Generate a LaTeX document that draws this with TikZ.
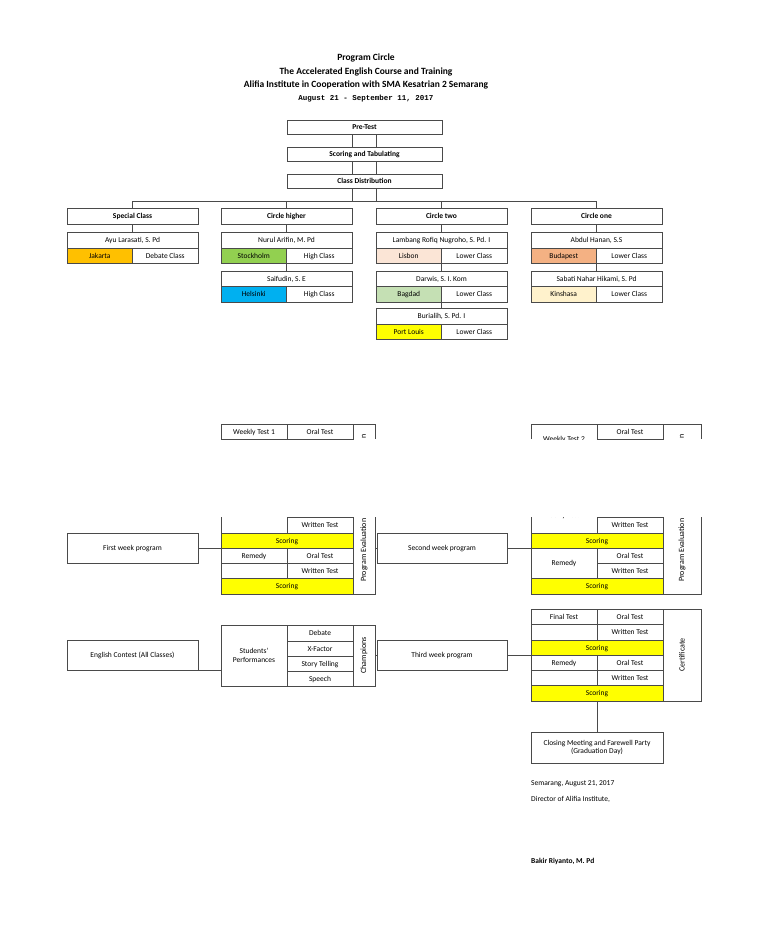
\documentclass[tikz,border=0pt]{standalone}
\usepackage{fontspec}
\setmainfont{Carlito}
\newfontfamily\monof{Liberation Mono}
\definecolor{lc}{HTML}{4A4A4A}
\definecolor{yel}{HTML}{FFFF00}
\definecolor{cJak}{HTML}{FFC000}
\definecolor{cSto}{HTML}{92D050}
\definecolor{cHel}{HTML}{00B0F0}
\definecolor{cLis}{HTML}{FBE5D6}
\definecolor{cBag}{HTML}{C5E0B4}
\definecolor{cBud}{HTML}{F4B183}
\definecolor{cKin}{HTML}{FFF2CC}
\tikzset{
  bx/.style={draw=lc, line width=0.8pt, inner sep=0pt, outer sep=0pt, align=center,
    font=\fontsize{7.5}{8.5}\selectfont, text=black, text height=5.6pt, text depth=0.6pt},
  ml/.style={text height=, text depth=},
  hd/.style={font=\bfseries\fontsize{7.5}{8.5}\selectfont},
  ln/.style={draw=lc, line width=0.8pt},
  rot/.style={rotate=90, inner sep=0pt, font=\fontsize{8}{9}\selectfont},
  ttl/.style={inner sep=0pt, font=\bfseries\fontsize{9.5}{11}\selectfont},
  sig/.style={inner sep=0pt, anchor=west, font=\fontsize{7.5}{8.5}\selectfont},
}
\newcommand\mycell[7][]{\node[bx,minimum width={(#5-#3)*1pt},minimum height={(#6-#4)*1pt},#1] (#2) at ({(#3+#5)/2},{(#4+#6)/2}) {#7};}
\begin{document}
\begin{tikzpicture}[x=1pt,y=-1pt]
\fill[white] (0,0) rectangle (768,932);
\useasboundingbox (0,0) rectangle (768,932);

% titles
\node[ttl] (t1) at (366,58) {Program Circle};
\node[ttl] (t2) at (366,72) {The Accelerated English Course and Training};
\node[ttl] (t3) at (366,85) {Alifia Institute in Cooperation with SMA Kesatrian 2 Semarang};
\node[inner sep=0pt, font=\monof\bfseries\fontsize{7.5}{9}\selectfont] (t4) at (366,99) {August 21 - September 11, 2017};

% header chain
\mycell[hd]{pre}{287}{120}{442}{134}{Pre-Test}
\mycell[hd]{sct}{287}{147}{442}{161}{Scoring and Tabulating}
\mycell[hd]{cd}{287}{174}{442}{188}{Class Distribution}
\mycell[hd]{spc}{67}{208}{198}{224}{Special Class}
\mycell[hd]{chi}{221}{208}{352}{224}{Circle higher}
\mycell[hd]{ctw}{376}{208}{507}{224}{Circle two}
\mycell[hd]{con}{531}{208}{662}{224}{Circle one}
\coordinate (bus) at (0,201);
\draw[ln] (pre.south -| chi.east) -- (sct.north -| chi.east);
\draw[ln] (pre.south -| ctw.west) -- (sct.north -| ctw.west);
\draw[ln] (sct.south -| chi.east) -- (cd.north -| chi.east);
\draw[ln] (sct.south -| ctw.west) -- (cd.north -| ctw.west);
\draw[ln] (cd.south -| chi.east) -- (bus -| chi.east);
\draw[ln] (cd.south -| ctw.west) -- (bus -| ctw.west);
\draw[ln] (bus -| spc.north) -- (bus -| con.north);
\draw[ln] (bus -| spc.north) -- (spc.north);
\draw[ln] (bus -| chi.north) -- (chi.north);
\draw[ln] (bus -| ctw.north) -- (ctw.north);
\draw[ln] (bus -| con.north) -- (con.north);

% special class
\mycell{ayu}{67}{232}{198}{248}{Ayu Larasati, S. Pd}
\mycell[fill=cJak]{jak}{67}{248}{132.5}{263}{Jakarta}
\mycell{debc}{132.5}{248}{198}{263}{Debate Class}
\draw[ln] (spc.south) -- (ayu.north);
% circle higher
\mycell{nur}{221}{232}{352}{248}{Nurul Arifin, M. Pd}
\mycell[fill=cSto]{sto}{221}{248}{286.5}{263}{Stockholm}
\mycell{hc1}{286.5}{248}{352}{263}{High Class}
\mycell{sai}{221}{271}{352}{286}{Saifudin, S. E}
\mycell[fill=cHel]{hel}{221}{286}{286.5}{302}{Helsinki}
\mycell{hc2}{286.5}{286}{352}{302}{High Class}
\draw[ln] (chi.south) -- (nur.north);
\draw[ln] (sto.south east) -- (sai.north);
% circle two
\mycell{lam}{376}{232}{507}{248}{Lambang Rofiq Nugroho, S. Pd. I}
\mycell[fill=cLis]{lis}{376}{248}{441.5}{263}{Lisbon}
\mycell{lo1}{441.5}{248}{507}{263}{Lower Class}
\mycell{dar}{376}{271}{507}{286}{Darwis, S. I. Kom}
\mycell[fill=cBag]{bag}{376}{286}{441.5}{302}{Bagdad}
\mycell{lo2}{441.5}{286}{507}{302}{Lower Class}
\mycell{bur}{376}{308}{507}{324}{Burialih, S. Pd. I}
\mycell[fill=yel]{pl}{376}{324}{441.5}{339}{Port Louis}
\mycell{lo3}{441.5}{324}{507}{339}{Lower Class}
\draw[ln] (ctw.south) -- (lam.north);
\draw[ln] (lis.south east) -- (dar.north);
\draw[ln] (bag.south east) -- (bur.north);
% circle one
\mycell{abd}{531}{232}{662}{248}{Abdul Hanan, S.S}
\mycell[fill=cBud]{bud}{531}{248}{596.5}{263}{Budapest}
\mycell{lo4}{596.5}{248}{662}{263}{Lower Class}
\mycell{sab}{531}{271}{662}{286}{Sabati Nahar Hikami, S. Pd}
\mycell[fill=cKin]{kin}{531}{286}{596.5}{302}{Kinshasa}
\mycell{lo5}{596.5}{286}{662}{302}{Lower Class}
\draw[ln] (con.south) -- (abd.north);
\draw[ln] (bud.south east) -- (sab.north);

% weekly test 1 (top strip)
\mycell{wt1}{221}{424}{287}{439}{Weekly Test 1}
\mycell{or1}{287}{424}{353}{439}{Oral Test}
\draw[ln] (353,439) -- (353,424) -- (375,424) -- (375,439);
\node[rot] (pe1n) at (364,436) {n};
% weekly test 1 (bottom strip)
\draw[ln] (221,517) -- (221,594);
\mycell{wr1a}{287}{517}{353}{533}{Written Test}
\mycell[fill=yel]{sc1a}{221}{533}{353}{548}{Scoring}
\mycell{rem1}{221}{548}{287}{563}{Remedy}
\mycell{or1b}{287}{548}{353}{563}{Oral Test}
\mycell{bl1}{221}{563}{287}{578}{}
\mycell{wr1b}{287}{563}{353}{578}{Written Test}
\mycell[fill=yel]{sc1b}{221}{578}{353}{594}{Scoring}
\draw[ln] (353,517) -- (353,594) -- (375,594) -- (375,517);
\begin{scope}
\clip (353,517) rectangle (375,594);
\node[rot,anchor=west] (pe1) at (364,582) {Program Evaluation};
\end{scope}
\coordinate (pe1e) at (375,548);

\mycell{wk1}{67}{533}{198}{563}{First week program}
\draw[ln] (wk1.east) -- (wk1.east -| sc1a.west);
\mycell{wk2}{377}{533}{507}{563}{Second week program}
\draw[ln] (pe1e) -- (wk2.west);

% weekly test 2 (top strip)
\draw[ln] (531,439) -- (531,424) -- (597,424);
\begin{scope}
\clip (531,424) rectangle (597,439);
\node[inner sep=0pt, font=\fontsize{7.5}{8.5}\selectfont] (wt2a) at (564,439) {Weekly Test 2};
\end{scope}
\mycell{or2}{597}{424}{663}{439}{Oral Test}
\draw[ln] (663,439) -- (663,424) -- (701,424) -- (701,439);
\node[rot] (pe2n) at (682,436) {n};
% weekly test 2 (bottom strip)
\draw[ln] (531,517) -- (531,594);
\begin{scope}
\clip (531,517) rectangle (597,533);
\node[inner sep=0pt, font=\fontsize{7.5}{8.5}\selectfont] (wt2b) at (564,515) {Weekly Test 2};
\end{scope}
\mycell{wr2a}{597}{517}{663}{533}{Written Test}
\mycell[fill=yel]{sc2a}{531}{533}{663}{548}{Scoring}
\mycell{rem2}{531}{548}{597}{578}{Remedy}
\mycell{or2b}{597}{548}{663}{563}{Oral Test}
\mycell{wr2b}{597}{563}{663}{578}{Written Test}
\mycell[fill=yel]{sc2b}{531}{578}{663}{594}{Scoring}
\draw[ln] (663,517) -- (663,594) -- (701,594) -- (701,517);
\begin{scope}
\clip (663,517) rectangle (701,594);
\node[rot,anchor=west] (pe2) at (682,582) {Program Evaluation};
\end{scope}
\draw[ln] (wk2.east) -- (wk2.east -| sc2a.west);

% third week
\mycell{eng}{67}{640}{198}{670}{English Contest (All Classes)}
\mycell[ml]{perf}{221}{625}{287}{686}{Students'\\Performances}
\mycell{deb}{287}{625}{353}{641}{Debate}
\mycell{xf}{287}{641}{353}{656}{X-Factor}
\mycell{stt}{287}{656}{353}{671}{Story Telling}
\mycell{spe}{287}{671}{353}{686}{Speech}
\mycell{cha}{353}{625}{375}{686}{}
\node[rot] (chat) at (cha.center) {Champions};
\draw[ln] (eng.south east) -- (eng.south east -| perf.west);
\mycell{wk3}{377}{640}{507}{670}{Third week program}
\draw[ln] (cha.east) -- (cha.east -| wk3.west);

\mycell{ft}{531}{609}{597}{624}{Final Test}
\mycell{or3a}{597}{609}{663}{624}{Oral Test}
\mycell{bl3a}{531}{624}{597}{640}{}
\mycell{wr3a}{597}{624}{663}{640}{Written Test}
\mycell[fill=yel]{sc3a}{531}{640}{663}{655}{Scoring}
\mycell{rem3}{531}{655}{597}{670}{Remedy}
\mycell{or3b}{597}{655}{663}{670}{Oral Test}
\mycell{bl3b}{531}{670}{597}{685}{}
\mycell{wr3b}{597}{670}{663}{685}{Written Test}
\mycell[fill=yel]{sc3b}{531}{685}{663}{701}{Scoring}
\mycell{cert}{663}{609}{701}{701}{}
\node[rot] (certt) at (cert.center) {Certificate};
\draw[ln] (wk3.east) -- (wk3.east -| ft.west);

\mycell[ml]{clo}{531}{732}{663}{763}{Closing Meeting and Farewell Party\\(Graduation Day)}
\draw[ln] (sc3b.south -| rem3.east) -- (clo.north -| rem3.east);

% signature
\node[sig] (s1) at (531,784) {Semarang, August 21, 2017};
\node[sig] (s2) at (531,799) {Director of Alifia Institute,};
\node[sig, font=\bfseries\fontsize{7.5}{8.5}\selectfont] (s3) at (531,861) {Bakir Riyanto, M. Pd};
\end{tikzpicture}
\end{document}
